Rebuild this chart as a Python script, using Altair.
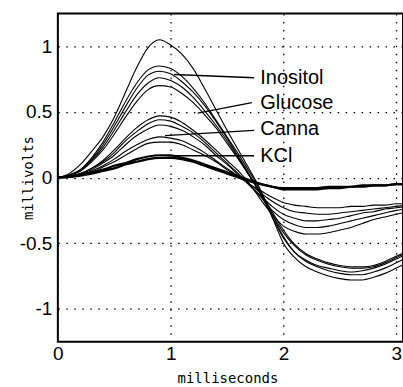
import altair as alt
import pandas as pd

# time axis (milliseconds)
t = [0.0, 0.1, 0.2, 0.3, 0.4, 0.5, 0.6, 0.7, 0.8, 0.9, 1.0, 1.1, 1.2, 1.3, 1.4, 1.5,
     1.6, 1.7, 1.8, 1.9, 2.0, 2.1, 2.2, 2.3, 2.4, 2.5, 2.6, 2.7, 2.8, 2.9, 3.0, 3.1]

# traces (millivolts)
I1 = [0, .03, .10, .20, .31, .46, .65, .84, .99, 1.05, 1.01, .94, .83, .68, .52, .36,
      .21, .06, -.10, -.30, -.50, -.61, -.68, -.72, -.75, -.77, -.78, -.78, -.76, -.73, -.69, -.65]
B2 = [0, .02, .06, .15, .27, .42, .58, .72, .82, .85, .83, .77, .68, .57, .44, .31,
      .18, .04, -.11, -.28, -.45, -.57, -.64, -.68, -.71, -.73, -.74, -.74, -.72, -.69, -.65, -.61]
B3 = [0, .02, .06, .14, .25, .39, .54, .68, .78, .81, .79, .73, .65, .55, .43, .30,
      .16, .02, -.13, -.30, -.46, -.57, -.63, -.67, -.69, -.71, -.72, -.71, -.69, -.66, -.62, -.58]
B4 = [0, .02, .05, .13, .23, .36, .50, .63, .72, .76, .74, .69, .61, .51, .40, .28,
      .15, .01, -.13, -.28, -.42, -.52, -.59, -.63, -.66, -.68, -.69, -.69, -.68, -.65, -.61, -.57]
B5 = [0, .02, .05, .12, .21, .33, .46, .58, .67, .70, .69, .64, .57, .48, .38, .26,
      .14, .01, -.12, -.26, -.40, -.51, -.58, -.62, -.65, -.67, -.68, -.68, -.67, -.64, -.60, -.56]
G1 = [0, .01, .03, .07, .13, .21, .30, .38, .44, .47, .46, .42, .36, .29, .21, .13,
      .05, -.05, -.17, -.28, -.37, -.41, -.43, -.43, -.42, -.40, -.38, -.35, -.32, -.30, -.28, -.26]
G2 = [0, .01, .03, .07, .12, .19, .28, .35, .41, .44, .43, .39, .34, .27, .19, .11,
      .03, -.06, -.15, -.25, -.32, -.36, -.38, -.38, -.37, -.35, -.33, -.31, -.29, -.27, -.25, -.24]
G3 = [0, .01, .03, .06, .11, .17, .25, .32, .37, .40, .39, .36, .31, .25, .17, .10,
      .02, -.06, -.14, -.22, -.28, -.31, -.33, -.33, -.32, -.31, -.29, -.27, -.26, -.24, -.23, -.22]
C1 = [0, .01, .02, .05, .09, .14, .20, .25, .29, .31, .30, .28, .24, .19, .13, .07,
      .01, -.05, -.12, -.18, -.23, -.26, -.27, -.28, -.28, -.27, -.26, -.25, -.24, -.23, -.22, -.21]
C2 = [0, .01, .02, .04, .08, .12, .17, .22, .26, .27, .27, .25, .21, .17, .12, .06,
      .01, -.05, -.10, -.15, -.19, -.21, -.22, -.23, -.23, -.23, -.22, -.22, -.21, -.21, -.20, -.20]
K1 = [0, .005, .02, .04, .06, .09, .11, .14, .16, .17, .17, .15, .13, .10, .07, .04,
      .01, -.02, -.05, -.07, -.09, -.09, -.09, -.09, -.08, -.08, -.07, -.07, -.06, -.06, -.05, -.05]
K2 = [0, .005, .015, .03, .05, .07, .10, .12, .14, .15, .15, .14, .12, .09, .06, .03,
      .00, -.03, -.05, -.07, -.08, -.08, -.08, -.08, -.07, -.07, -.07, -.06, -.06, -.06, -.05, -.05]

traces = {"I1": I1, "B2": B2, "B3": B3, "B4": B4, "B5": B5, "G1": G1, "G2": G2,
          "G3": G3, "C1": C1, "C2": C2, "K1": K1, "K2": K2}
widths = {"K1": 2.2, "K2": 2.2}

# annotation labels and their leader lines (data units)
labels = ["Inositol", "Glucose", "Canna", "KCl"]
lead_t0 = [1.03, 1.24, 0.95, 0.96]
lead_v0 = [0.785, 0.49, 0.32, 0.166]
lead_t1 = [1.74, 1.72, 1.74, 1.74]
lead_v1 = [0.76, 0.57, 0.36, 0.166]
label_t = [1.795, 1.795, 1.795, 1.795]
label_v = [0.76, 0.57, 0.37, 0.166]

x_ticks = [0, 1, 2, 3]
y_ticks = [-1, -0.5, 0, 0.5, 1]

rows = []
for name, vals in traces.items():
    for ti, vi in zip(t, vals):
        rows.append({"t": ti, "v": vi, "trace": name, "w": widths.get(name, 1.1)})
df = pd.DataFrame(rows)

lead_rows = []
for i, lab in enumerate(labels):
    lead_rows.append({"t": lead_t0[i], "v": lead_v0[i], "lab": lab, "o": 0})
    lead_rows.append({"t": lead_t1[i], "v": lead_v1[i], "lab": lab, "o": 1})
lead_df = pd.DataFrame(lead_rows)
text_df = pd.DataFrame({"t": label_t, "v": label_v, "lab": labels})

xscale = alt.Scale(domain=[0, 3.06], nice=False, zero=False)
yscale = alt.Scale(domain=[-1.25, 1.25], nice=False, zero=False)

xaxis = alt.Axis(values=x_ticks, title="milliseconds", grid=True, ticks=False, tickSize=0,
                 domain=False, labelExpr="'' + datum.value", labelFontSize=19,
                 labelFont="Liberation Sans", labelPadding=3, labelColor="black",
                 titleFont="DejaVu Sans Mono", titleFontSize=14, titleFontWeight="normal",
                 titleColor="black", titleX=170, titleY=41, titleBaseline="alphabetic",
                 gridDash=[1.5, 6.5], gridColor="black", gridWidth=1.3, gridOpacity=1,
                 labelFlush=False, labelOverlap=False)
yaxis = alt.Axis(values=y_ticks, title="millivolts", grid=True, ticks=False, tickSize=0,
                 domain=False, labelExpr="'' + datum.value", labelFontSize=19,
                 labelFont="Liberation Sans", labelPadding=6, labelColor="black",
                 titleFont="DejaVu Sans Mono", titleFontSize=14, titleFontWeight="normal",
                 titleColor="black", titleX=-25, titleY=164.5, titleAngle=-90,
                 titleBaseline="alphabetic", titleAlign="center",
                 gridDash=[1.5, 6.5], gridColor="black", gridWidth=1.3, gridOpacity=1,
                 labelFlush=False, labelOverlap=False)

lines = alt.Chart(df).mark_line(color="black", interpolate="monotone", clip=True).encode(
    x=alt.X("t:Q", scale=xscale, axis=xaxis),
    y=alt.Y("v:Q", scale=yscale, axis=yaxis),
    detail="trace:N",
    strokeWidth=alt.StrokeWidth("w:Q", scale=None, legend=None),
)

leaders = alt.Chart(lead_df).mark_line(color="black", strokeWidth=1.3).encode(
    x=alt.X("t:Q", scale=xscale),
    y=alt.Y("v:Q", scale=yscale),
    detail="lab:N",
    order="o:Q",
)

texts = alt.Chart(text_df).mark_text(align="left", baseline="middle", font="Liberation Sans",
                                     fontSize=20, color="black").encode(
    x=alt.X("t:Q", scale=xscale),
    y=alt.Y("v:Q", scale=yscale),
    text="lab:N",
)

chart = alt.layer(lines, leaders, texts).properties(
    width=346, height=329,
    autosize=alt.AutoSizeParams(type="none"),
    padding={"left": 58, "top": 13, "right": 0, "bottom": 45},
    background="white",
).configure_view(stroke="black", strokeWidth=2)

chart.save("out.html", embed_options={"renderer": "svg", "actions": False})
